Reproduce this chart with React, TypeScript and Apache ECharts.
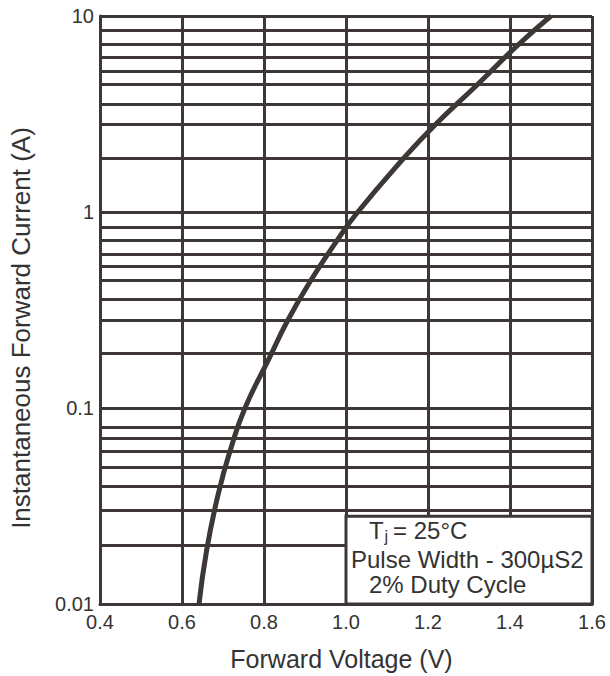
import React, { useEffect, useRef } from "react";
import * as echarts from "echarts";

// Curve (forward voltage in V, current in A)
const forwardVoltage = [
  0.6415, 0.6602, 0.6878, 0.7188, 0.7537, 0.8146, 0.8561, 0.9122, 0.978, 1.0268,
  1.139, 1.217, 1.3195, 1.4195, 1.5,
];
const forwardCurrent = [
  0.01, 0.01886, 0.036, 0.0618, 0.1, 0.1827, 0.2756, 0.441, 0.714, 0.988, 1.864,
  2.779, 4.446, 7.112, 10,
];

// Axes
const xMin = 0.4;
const xMax = 1.6;
const xStep = 0.2;
const yMin = 0.01;
const yMax = 10;
const yTickValues = [0.01, 0.1, 1, 10];
const yTickLabels = ["0.01", "0.1", "1", "10"];
const xTitle = "Forward Voltage (V)";
const yTitle = "Instantaneous Forward Current (A)";

// Minor horizontal grid lines (as drawn in the reference, per decade)
const decadeStarts = [0.01, 0.1, 1];
const minorGridFactors = [1.88, 2.8, 3.56, 4.5, 5.25, 6.15, 7.2, 8.45];

// Note box (covers the grid in this range)
const noteBoxVoltage = [1.0, 1.6];
const noteBoxCurrent = [0.01, 0.028];
const noteTemp = ["T", "j", "= 25\u00b0C"];
const noteLines = ["Pulse Width - 300\u00b5S2", "2% Duty Cycle"];

const LINE = "#3d3735";
const TEXT = "#333333";
const FONT = "'Liberation Sans', Arial, Helvetica, sans-serif";

export default function App() {
  const ref = useRef<HTMLDivElement>(null);

  useEffect(() => {
    if (!ref.current) return;
    const chart = echarts.init(ref.current, undefined, { renderer: "svg" });

    const minorValues: number[] = [];
    decadeStarts.forEach((d) =>
      minorGridFactors.forEach((f) => minorValues.push(+(d * f).toPrecision(4)))
    );

    const option: any = {
      animation: false,
      grid: { left: 100, right: 18, top: 16, bottom: 72, containLabel: false },
      xAxis: {
        type: "value",
        min: xMin,
        max: xMax,
        interval: xStep,
        name: xTitle,
        nameLocation: "middle",
        nameGap: 42,
        nameTextStyle: { fontSize: 25, color: TEXT, fontFamily: FONT, padding: [0, 9, 0, 0] },
        axisLine: { show: true, lineStyle: { color: LINE, width: 3 } },
        axisTick: { show: false },
        axisLabel: {
          fontSize: 20,
          color: TEXT,
          fontFamily: FONT,
          margin: 8,
          formatter: (v: number) => v.toFixed(1),
        },
        splitLine: { show: true, lineStyle: { color: LINE, width: 3, type: "solid" } },
      },
      yAxis: {
        type: "log",
        logBase: 10,
        min: yMin,
        max: yMax,
        axisLine: { show: true, lineStyle: { color: LINE, width: 3 } },
        axisTick: { show: false },
        axisLabel: {
          fontSize: 20,
          color: TEXT,
          fontFamily: FONT,
          margin: 6,
          formatter: (v: number) => {
            let best = 0;
            yTickValues.forEach((t, i) => {
              if (
                Math.abs(Math.log10(t) - Math.log10(v)) <
                Math.abs(Math.log10(yTickValues[best]) - Math.log10(v))
              )
                best = i;
            });
            return yTickLabels[best];
          },
        },
        splitLine: { show: true, lineStyle: { color: LINE, width: 3, type: "solid" } },
      },
      series: [
        {
          name: "grid",
          type: "line",
          data: [],
          z: 1,
          silent: true,
          markLine: {
            silent: true,
            z: 1,
            symbol: ["none", "none"],
            label: { show: false },
            emphasis: { disabled: true },
            lineStyle: { color: LINE, width: 3, type: "solid" },
            data: minorValues.map((v) => ({ yAxis: v })),
          },
        },
        {
          name: "IF",
          type: "line",
          z: 10,
          data: forwardVoltage.map((v, i) => [v, forwardCurrent[i]]),
          showSymbol: false,
          symbol: "none",
          smooth: 0.5,
          lineStyle: { color: LINE, width: 5 },
        },
      ],
    };

    chart.setOption(option);

    const p0 = chart.convertToPixel({ gridIndex: 0 }, [noteBoxVoltage[0], noteBoxCurrent[1]]) as number[];
    const p1 = chart.convertToPixel({ gridIndex: 0 }, [noteBoxVoltage[1], noteBoxCurrent[0]]) as number[];
    const bx = p0[0];
    const by = p0[1];
    const bw = p1[0] - p0[0];
    const bh = p1[1] - p0[1];

    const top = chart.convertToPixel({ gridIndex: 0 }, [xMin, yMax]) as number[];
    const bottom = chart.convertToPixel({ gridIndex: 0 }, [xMin, yMin]) as number[];

    const txt = (x: number, y: number, text: string, size: number) => ({
      type: "text",
      z: 101,
      x,
      y,
      style: {
        text,
        fontSize: size,
        fontFamily: FONT,
        fill: TEXT,
        align: "left",
        textAlign: "left",
        verticalAlign: "middle",
        textVerticalAlign: "middle",
      },
    });

    chart.setOption({
      graphic: [
        {
          type: "rect",
          z: 100,
          shape: { x: bx, y: by, width: bw, height: bh },
          style: { fill: "#ffffff", stroke: LINE, lineWidth: 3 },
        },
        txt(bx + 23, by + 14.5, noteTemp[0], 24),
        txt(bx + 38.5, by + 20.5, noteTemp[1], 16),
        txt(bx + 47, by + 14.5, noteTemp[2], 24),
        txt(bx + 5, by + 43.5, noteLines[0], 24),
        txt(bx + 23, by + 68, noteLines[1], 24),
        {
          type: "text",
          z: 101,
          x: top[0] - 79,
          y: (top[1] + bottom[1]) / 2 + 18,
          rotation: Math.PI / 2,
          style: {
            text: yTitle,
            fontSize: 26,
            fontFamily: FONT,
            fill: TEXT,
            align: "center",
            textAlign: "center",
            verticalAlign: "middle",
            textVerticalAlign: "middle",
          },
        },
      ],
    });

    return () => chart.dispose();
  }, []);

  return (
    <div
      ref={ref}
      style={{ position: "absolute", left: 0, top: 0, width: 610, height: 676, background: "#fff" }}
    />
  );
}
